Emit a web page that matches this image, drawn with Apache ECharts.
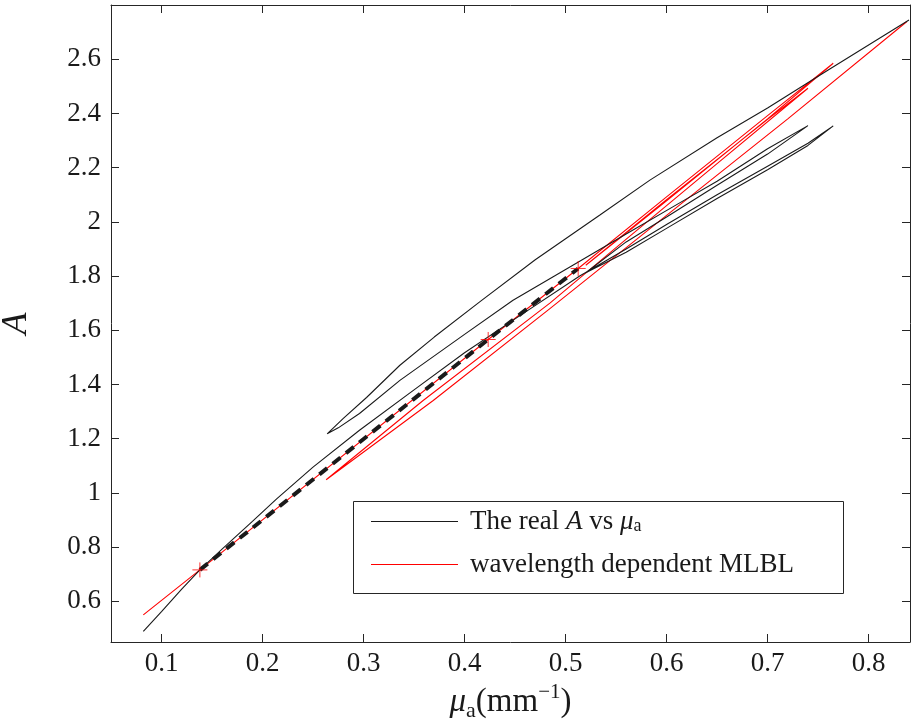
<!DOCTYPE html>
<html>
<head>
<meta charset="utf-8">
<script src="https://cdn.jsdelivr.net/npm/echarts@6/dist/echarts.min.js"></script>
<style>
html,body{margin:0;padding:0;background:#fff;}
#chart{width:913px;height:724px;}
</style>
</head>
<body>
<div id="chart"></div>
<script>
// ---- data ----
const seriesNames = ['The real A vs μa', 'wavelength dependent MLBL'];

// black curve: real A vs mu_a (traced in order)
const realMuA = [0.082,0.100,0.120,0.138,0.161,0.190,0.214,0.250,0.296,0.350,0.400,0.450,0.514,
  0.560,0.600,0.650,0.700,0.740,0.765,
  0.740,0.700,0.650,0.600,0.560,0.520,
  0.560,0.600,0.650,0.700,0.740,
  0.700,0.650,0.613,0.560,0.514,0.448,0.400,0.336,0.296,0.275,0.264,
  0.280,0.303,0.336,0.370,0.415,0.470,0.534,0.5835,0.650,0.700,0.760,0.808,0.840];
const realA = [0.489,0.562,0.645,0.716,0.796,0.895,0.978,1.095,1.231,1.380,1.517,1.642,1.800,
  1.900,1.990,2.100,2.205,2.290,2.354,
  2.282,2.192,2.086,1.976,1.888,1.812,
  1.926,2.018,2.135,2.250,2.355,
  2.270,2.150,2.070,1.955,1.855,1.711,1.585,1.415,1.293,1.240,1.218,
  1.275,1.352,1.471,1.575,1.705,1.860,2.025,2.154,2.310,2.420,2.560,2.671,2.745];

// red curve: wavelength dependent MLBL
const mlblMuA = [0.082,0.138,0.4234,0.5125,0.600,0.700,0.765,
  0.700,0.600,0.520,
  0.600,0.700,0.740,
  0.650,0.550,0.4845,0.359,0.263,
  0.369,0.4845,0.600,0.720,0.838];
const mlblA = [0.550,0.716,1.566,1.828,2.092,2.392,2.585,
  2.380,2.078,1.840,
  2.082,2.378,2.493,
  2.215,1.905,1.700,1.341,1.0485,
  1.341,1.680,2.024,2.380,2.739];

// dashed fit through the marked points
const fitMuA = [0.138,0.4234,0.5125];
const fitA = [0.716,1.566,1.828];

const xTicks = [0.1,0.2,0.3,0.4,0.5,0.6,0.7,0.8];
const yTicks = [0.6,0.8,1,1.2,1.4,1.6,1.8,2,2.2,2.4,2.6];

// ---- chart ----
const zip = (a,b) => a.map((v,i)=>[v,b[i]]);
const axisCol = '#262626';
const serif = '"Liberation Serif","DejaVu Serif",serif';

const chart = echarts.init(document.getElementById('chart'), null, {renderer:'canvas'});

const xBase = {
  type:'value', min:0.05, max:0.841,
  splitLine:{show:false},
  axisLine:{show:true, onZero:false, lineStyle:{color:axisCol, width:1}},
  axisTick:{show:true, inside:true, length:8, lineStyle:{color:axisCol}, customValues:xTicks},
};
const yBase = {
  type:'value', min:0.45, max:2.8,
  splitLine:{show:false},
  axisLine:{show:true, onZero:false, lineStyle:{color:axisCol, width:1}},
  axisTick:{show:true, inside:true, length:8, lineStyle:{color:axisCol}, customValues:yTicks},
};

const option = {
  backgroundColor:'#fff',
  animation:false,
  grid:{left:111, right:3, top:5, bottom:82, containLabel:false, outerBoundsMode:'none'},
  xAxis:[
    Object.assign({}, xBase, {
      position:'bottom',
      axisLabel:{show:true, customValues:xTicks, margin:8, color:'#1a1a1a', fontFamily:serif, fontSize:27,
        formatter:v=>String(v)},
      name:'{mu|μ}{sub|a}{n|(mm}{sup|−1}{n|)}',
      nameLocation:'middle', nameGap:40,
      nameTextStyle:{color:'#1a1a1a', fontFamily:serif,
        rich:{
          mu:{fontFamily:serif, fontStyle:'italic', fontSize:33, lineHeight:40, color:'#1a1a1a', verticalAlign:'middle'},
          sub:{fontFamily:serif, fontSize:22, lineHeight:22, color:'#1a1a1a', verticalAlign:'bottom'},
          n:{fontFamily:serif, fontSize:33, lineHeight:40, color:'#1a1a1a', verticalAlign:'middle'},
          sup:{fontFamily:serif, fontSize:21, lineHeight:21, color:'#1a1a1a', verticalAlign:'top'}
        }}
    }),
    Object.assign({}, xBase, {position:'top', axisLabel:{show:false}})
  ],
  yAxis:[
    Object.assign({}, yBase, {
      position:'left',
      axisLabel:{show:true, customValues:yTicks, margin:10, color:'#1a1a1a', fontFamily:serif, fontSize:27,
        formatter:v=>String(v)},
      name:'A', nameLocation:'middle', nameGap:76, nameRotate:90,
      nameTextStyle:{color:'#1a1a1a', fontFamily:serif, fontStyle:'italic', fontSize:36}
    }),
    Object.assign({}, yBase, {position:'right', axisLabel:{show:false}})
  ],
  legend:{
    show:true, orient:'vertical', left:371, top:506,
    itemWidth:87, itemHeight:14, itemGap:12,
    padding:0,
    data:[{name:seriesNames[0], icon:'path://M0,0L87,0L87,1L0,1Z'},{name:seriesNames[1], icon:'path://M0,0L87,0L87,1L0,1Z'}],
    formatter:function(n){
      if(n===seriesNames[0]) return '{t|The real }{i|A}{t| vs }{i|μ}{s|a}';
      return '{t|wavelength dependent MLBL}';
    },
    textStyle:{color:'#1a1a1a', fontFamily:serif, fontSize:27, padding:[0,0,0,7], lineHeight:31,
      rich:{
        t:{fontFamily:serif, fontSize:27, color:'#1a1a1a'},
        i:{fontFamily:serif, fontStyle:'italic', fontSize:27, color:'#1a1a1a'},
        s:{fontFamily:serif, fontSize:18, color:'#1a1a1a', padding:[10,0,0,0]}
      }},
    z:10
  },
  graphic:[{
    type:'rect', z:5, silent:true,
    shape:{x:353.5, y:501.5, width:490, height:92},
    style:{fill:'#fff', stroke:'#262626', lineWidth:1}
  }],
  series:[
    {
      name:seriesNames[0], type:'line', data:zip(realMuA, realA),
      xAxisIndex:0, yAxisIndex:0,
      symbol:'none', smooth:false, clip:true,
      lineStyle:{color:'#1a1a1a', width:1.1},
      itemStyle:{color:'#1a1a1a'}, z:3
    },
    {
      name:seriesNames[1], type:'line', data:zip(mlblMuA, mlblA),
      xAxisIndex:0, yAxisIndex:0,
      symbol:'none', smooth:false, clip:true,
      lineStyle:{color:'#ff0000', width:1.1},
      itemStyle:{color:'#ff0000'}, z:2
    },
    {
      name:'fit', type:'line', data:zip(fitMuA, fitA),
      symbol:'none', lineStyle:{color:'#1a1a1a', width:4, type:[10,7]}, z:4
    },
    {
      name:'points', type:'scatter', data:zip(fitMuA, fitA),
      symbol:'path://M7,0L7,14M0,7L14,7', symbolSize:15,
      itemStyle:{color:'none', borderColor:'#ff0000', borderWidth:1}, z:5
    }
  ]
};
chart.setOption(option);
</script>
</body>
</html>
